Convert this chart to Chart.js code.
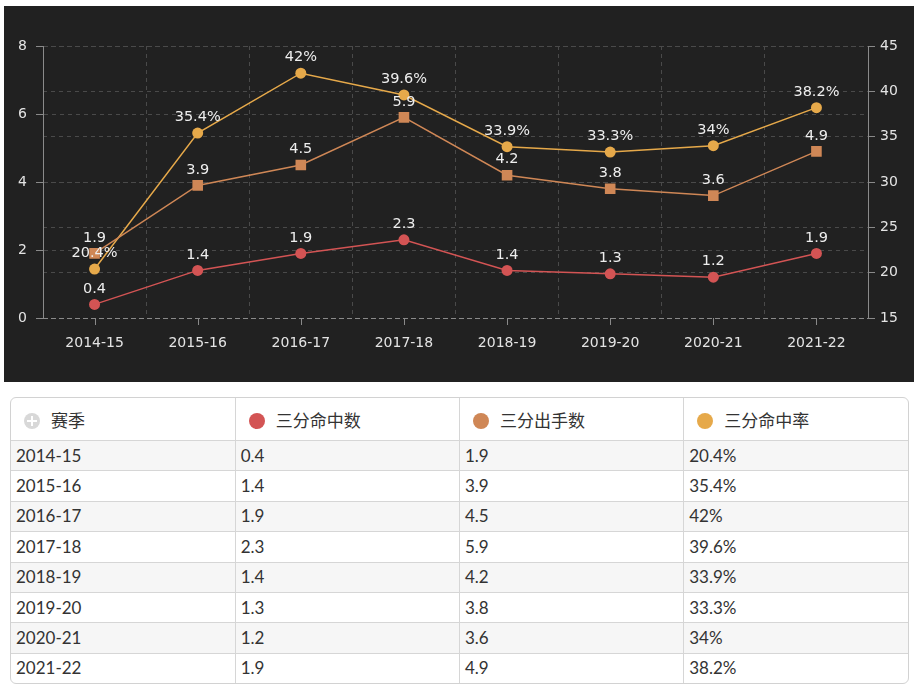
<!DOCTYPE html>
<html>
<head>
<meta charset="utf-8">
<script src="https://cdn.jsdelivr.net/npm/chart.js@4/dist/chart.umd.min.js"></script>
<style>
  html, body { margin: 0; padding: 0; background: #ffffff; width: 922px; height: 694px; overflow: hidden; }
  #panel { position: absolute; left: 4px; top: 6px; width: 910px; height: 376px; background: #212121; }
  #tbl { position: absolute; left: 10px; top: 397px; width: 897px; border: 1px solid #d2d2d2; border-radius: 6px; overflow: hidden; }
  table { width: 100%; border-collapse: collapse; table-layout: fixed; font-family: Lato, "Noto Sans CJK SC", sans-serif; font-size: 17px; color: #333; }
  th { height: 42px; text-align: left; font-weight: normal; padding: 0 0 0 13px; border-right: 1px solid #d6d6d6; border-bottom: 1px solid #d6d6d6; white-space: nowrap; }
  td { height: 29.4px; padding: 0 0 0 5px; border-right: 1px solid #d6d6d6; border-top: 1px solid #d6d6d6; line-height: 20px; }
  th:last-child, td:last-child { border-right: none; }
  tr.odd td { background: #f6f6f6; }
  .dot { display: inline-block; width: 16px; height: 16px; border-radius: 50%; vertical-align: -2px; margin-right: 11px; }
  .plus { display: inline-block; width: 16px; height: 16px; border-radius: 50%; background: #d8d8d8; position: relative; vertical-align: -2px; margin-right: 11px; }
  .plus:before { content: ""; position: absolute; left: 7px; top: 3px; width: 2px; height: 10px; background: #fff; }
  .plus:after { content: ""; position: absolute; left: 3px; top: 7px; width: 10px; height: 2px; background: #fff; }
</style>
</head>
<body>
<div id="panel"><canvas id="c"></canvas></div>
<div id="tbl"></div>
<script>
// ---- data ----
const seasons = ["2014-15", "2015-16", "2016-17", "2017-18", "2018-19", "2019-20", "2020-21", "2021-22"];
const threeMade = [0.4, 1.4, 1.9, 2.3, 1.4, 1.3, 1.2, 1.9];
const threeAttempts = [1.9, 3.9, 4.5, 5.9, 4.2, 3.8, 3.6, 4.9];
const threePct = [20.4, 35.4, 42, 39.6, 33.9, 33.3, 34, 38.2];
const seriesNames = ["三分命中数", "三分出手数", "三分命中率"];
const firstColName = "赛季";
const leftTickRange = [0, 8, 2];
const rightTickRange = [15, 45, 5];

const colors = ["#d35454", "#cf8756", "#e6a94a"];

// ---- table ----
(function buildTable() {
  let h = '<table><tr><th><span class="plus"></span>' + firstColName + '</th>';
  seriesNames.forEach((n, i) => { h += '<th><span class="dot" style="background:' + colors[i] + '"></span>' + n + '</th>'; });
  h += '</tr>';
  seasons.forEach((s, i) => {
    h += '<tr class="' + (i % 2 === 0 ? 'odd' : 'even') + '"><td>' + s + '</td><td>' + threeMade[i] + '</td><td>' + threeAttempts[i] + '</td><td>' + threePct[i] + '%</td></tr>';
  });
  h += '</table>';
  document.getElementById('tbl').innerHTML = h;
})();

// ---- chart ----
const gridColor = '#4a4a4a';
const axisColor = '#8a8a8a';
const tickTextColor = '#e4e4e4';

const valueLabels = {
  id: 'valueLabels',
  afterDatasetsDraw(chart) {
    const ctx = chart.ctx;
    ctx.save();
    ctx.font = '14.5px "DejaVu Sans"';
    ctx.fillStyle = '#eeeeee';
    ctx.textAlign = 'center';
    ctx.textBaseline = 'middle';
    chart.data.datasets.forEach((ds, di) => {
      const meta = chart.getDatasetMeta(di);
      meta.data.forEach((pt, i) => {
        const v = ds.data[i];
        ctx.fillText(v + (ds.suffix || ''), pt.x, pt.y - 15.5);
      });
    });
    ctx.restore();
  }
};

const xTickMarks = {
  id: 'xTickMarks',
  afterDraw(chart) {
    const xs = chart.scales.x;
    const ctx = chart.ctx;
    ctx.save();
    ctx.strokeStyle = axisColor;
    ctx.lineWidth = 1;
    seasons.forEach((s, i) => {
      const px = Math.round(xs.getPixelForValue(i)) + 0.5;
      ctx.beginPath();
      ctx.moveTo(px, xs.top);
      ctx.lineTo(px, xs.top + 7);
      ctx.stroke();
    });
    ctx.restore();
  }
};

new Chart(document.getElementById('c'), {
  type: 'line',
  data: {
    labels: seasons,
    datasets: [
      { label: seriesNames[0], data: threeMade, yAxisID: 'y', borderColor: colors[0], backgroundColor: colors[0],
        borderWidth: 1.5, pointStyle: 'circle', pointRadius: 5.5, pointBorderWidth: 0, tension: 0 },
      { label: seriesNames[1], data: threeAttempts, yAxisID: 'y', borderColor: colors[1], backgroundColor: colors[1],
        borderWidth: 1.5, pointStyle: 'rect', pointRadius: 7.5, pointBorderWidth: 0, tension: 0 },
      { label: seriesNames[2], data: threePct, yAxisID: 'y1', suffix: '%', borderColor: colors[2], backgroundColor: colors[2],
        borderWidth: 1.5, pointStyle: 'circle', pointRadius: 5.5, pointBorderWidth: 0, tension: 0 }
    ]
  },
  options: {
    responsive: true,
    maintainAspectRatio: false,
    animation: false,
    layout: { padding: { top: 40, left: 0, right: 0, bottom: 0 } },
    plugins: { legend: { display: false }, tooltip: { enabled: false } },
    scales: {
      x: {
        offset: true,
        grid: { offset: true, color: gridColor, drawTicks: false },
        border: { display: false, dash: [4, 4] },
        ticks: { color: tickTextColor, font: { family: 'DejaVu Sans', size: 14 }, padding: 17, maxRotation: 0 },
        afterFit(s) { s.height = 64; }
      },
      y: {
        position: 'left',
        min: leftTickRange[0], max: leftTickRange[1],
        ticks: { stepSize: leftTickRange[2], color: tickTextColor, font: { family: 'DejaVu Sans', size: 14 }, padding: 9 },
        grid: { color: (c) => (c.tick && c.tick.value === leftTickRange[0]) ? axisColor : gridColor, tickLength: 7, tickColor: axisColor },
        border: { color: axisColor, dash: [4, 4] },
        afterFit(s) { s.width = 39; }
      },
      y1: {
        position: 'right',
        min: rightTickRange[0], max: rightTickRange[1],
        ticks: { stepSize: rightTickRange[2], color: tickTextColor, font: { family: 'DejaVu Sans', size: 14 }, padding: 5 },
        grid: { color: (c) => (c.tick && c.tick.value === rightTickRange[0]) ? axisColor : gridColor, tickLength: 7, tickColor: axisColor },
        border: { color: axisColor, dash: [4, 4] },
        afterFit(s) { s.width = 46; }
      }
    }
  },
  plugins: [valueLabels, xTickMarks]
});
</script>
</body>
</html>
